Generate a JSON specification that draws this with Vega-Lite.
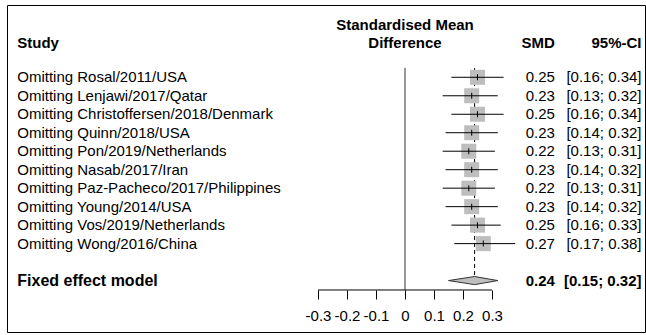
{
  "$schema": "https://vega.github.io/schema/vega-lite/v6.json",
  "autosize": {"type": "none"},
  "padding": {"left": 7, "top": 5, "right": 1, "bottom": 3},
  "width": 638,
  "height": 327,
  "background": "#ffffff",
  "config": {
    "view": {"stroke": "#000000", "strokeWidth": 1},
    "font": "Liberation Sans",
    "text": {"font": "Liberation Sans", "fontSize": 15, "color": "#000000", "baseline": "middle"},
    "axisX": {"domain": false, "grid": false, "ticks": true, "tickSize": 9, "tickColor": "#000000", "tickWidth": 1, "labelFont": "Liberation Sans", "labelFontSize": 15, "labelColor": "#000000", "labelPadding": 9, "labelFlush": false, "labelOverlap": false}
  },
  "datasets": {
    "studies": [
      {"study": "Omitting Rosal/2011/USA", "row": 1, "smd": 0.25, "lo": 0.16, "hi": 0.34, "ci": "[0.16; 0.34]"},
      {"study": "Omitting Lenjawi/2017/Qatar", "row": 2, "smd": 0.23, "lo": 0.13, "hi": 0.32, "ci": "[0.13; 0.32]"},
      {"study": "Omitting Christoffersen/2018/Denmark", "row": 3, "smd": 0.25, "lo": 0.16, "hi": 0.34, "ci": "[0.16; 0.34]"},
      {"study": "Omitting Quinn/2018/USA", "row": 4, "smd": 0.23, "lo": 0.14, "hi": 0.32, "ci": "[0.14; 0.32]"},
      {"study": "Omitting Pon/2019/Netherlands", "row": 5, "smd": 0.22, "lo": 0.13, "hi": 0.31, "ci": "[0.13; 0.31]"},
      {"study": "Omitting Nasab/2017/Iran", "row": 6, "smd": 0.23, "lo": 0.14, "hi": 0.32, "ci": "[0.14; 0.32]"},
      {"study": "Omitting Paz-Pacheco/2017/Philippines", "row": 7, "smd": 0.22, "lo": 0.13, "hi": 0.31, "ci": "[0.13; 0.31]"},
      {"study": "Omitting Young/2014/USA", "row": 8, "smd": 0.23, "lo": 0.14, "hi": 0.32, "ci": "[0.14; 0.32]"},
      {"study": "Omitting Vos/2019/Netherlands", "row": 9, "smd": 0.25, "lo": 0.16, "hi": 0.33, "ci": "[0.16; 0.33]"},
      {"study": "Omitting Wong/2016/China", "row": 10, "smd": 0.27, "lo": 0.17, "hi": 0.38, "ci": "[0.17; 0.38]"}
    ],
    "pooled": [
      {"label": "Fixed effect model", "row": 12, "smd": 0.24, "lo": 0.15, "hi": 0.32, "ci": "[0.15; 0.32]"}
    ],
    "diamond": [
      {"x": 0.15, "ylo": 12, "yhi": 12},
      {"x": 0.24, "ylo": 11.78, "yhi": 12.22},
      {"x": 0.32, "ylo": 12, "yhi": 12}
    ]
  },
  "layer": [
    {
      "data": {"values": [{}]},
      "mark": {"type": "rule", "color": "#777777", "strokeWidth": 1.5},
      "encoding": {
        "x": {"datum": 0, "type": "quantitative",
          "scale": {"domain": [-1.3724, 0.8276], "nice": false, "zero": false},
          "axis": {"values": [-0.3, -0.2, -0.1, 0, 0.1, 0.2, 0.3], "offset": -42, "title": null, "labelExpr": "datum.value == 0 ? '0' : (datum.value < 0 ? '-' : '') + format(abs(datum.value), '.1f')"}},
        "y": {"datum": 0.48, "type": "quantitative", "scale": {"domain": [-2.912, 14.783], "nice": false, "zero": false, "reverse": true}, "axis": null},
        "y2": {"datum": 12.51}
      }
    },
    {
      "data": {"name": "pooled"},
      "mark": {"type": "rule", "color": "#000000", "strokeWidth": 1, "strokeDash": [4, 3]},
      "encoding": {
        "x": {"field": "smd", "type": "quantitative", "scale": {"domain": [-1.3724, 0.8276], "nice": false, "zero": false},
          "axis": {"values": [-0.3, -0.2, -0.1, 0, 0.1, 0.2, 0.3], "offset": -42, "title": null, "labelExpr": "datum.value == 0 ? '0' : (datum.value < 0 ? '-' : '') + format(abs(datum.value), '.1f')"}},
        "y": {"datum": 0.5, "type": "quantitative", "scale": {"domain": [-2.912, 14.783], "nice": false, "zero": false, "reverse": true}, "axis": null},
        "y2": {"datum": 11.78}
      }
    },
    {
      "data": {"name": "studies"},
      "mark": {"type": "point", "shape": "square", "filled": true, "color": "#bebebe", "opacity": 1, "size": 225, "strokeWidth": 0},
      "encoding": {
        "x": {"field": "smd", "type": "quantitative", "scale": {"domain": [-1.3724, 0.8276], "nice": false, "zero": false},
          "axis": {"values": [-0.3, -0.2, -0.1, 0, 0.1, 0.2, 0.3], "offset": -42, "title": null, "labelExpr": "datum.value == 0 ? '0' : (datum.value < 0 ? '-' : '') + format(abs(datum.value), '.1f')"}},
        "y": {"field": "row", "type": "quantitative", "scale": {"domain": [-2.912, 14.783], "nice": false, "zero": false, "reverse": true}, "axis": null}
      }
    },
    {
      "data": {"name": "studies"},
      "mark": {"type": "rule", "color": "#000000", "strokeWidth": 1},
      "encoding": {
        "x": {"field": "lo", "type": "quantitative", "scale": {"domain": [-1.3724, 0.8276], "nice": false, "zero": false},
          "axis": {"values": [-0.3, -0.2, -0.1, 0, 0.1, 0.2, 0.3], "offset": -42, "title": null, "labelExpr": "datum.value == 0 ? '0' : (datum.value < 0 ? '-' : '') + format(abs(datum.value), '.1f')"}},
        "x2": {"field": "hi"},
        "y": {"field": "row", "type": "quantitative", "scale": {"domain": [-2.912, 14.783], "nice": false, "zero": false, "reverse": true}, "axis": null}
      }
    },
    {
      "data": {"name": "studies"},
      "mark": {"type": "tick", "orient": "vertical", "color": "#000000", "size": 6, "thickness": 1, "opacity": 1},
      "encoding": {
        "x": {"field": "smd", "type": "quantitative", "scale": {"domain": [-1.3724, 0.8276], "nice": false, "zero": false},
          "axis": {"values": [-0.3, -0.2, -0.1, 0, 0.1, 0.2, 0.3], "offset": -42, "title": null, "labelExpr": "datum.value == 0 ? '0' : (datum.value < 0 ? '-' : '') + format(abs(datum.value), '.1f')"}},
        "y": {"field": "row", "type": "quantitative", "scale": {"domain": [-2.912, 14.783], "nice": false, "zero": false, "reverse": true}, "axis": null}
      }
    },
    {
      "data": {"name": "diamond"},
      "mark": {"type": "area", "orient": "vertical", "color": "#bebebe", "opacity": 1, "stroke": "#333333", "strokeWidth": 1},
      "encoding": {
        "x": {"field": "x", "type": "quantitative", "scale": {"domain": [-1.3724, 0.8276], "nice": false, "zero": false},
          "axis": {"values": [-0.3, -0.2, -0.1, 0, 0.1, 0.2, 0.3], "offset": -42, "title": null, "labelExpr": "datum.value == 0 ? '0' : (datum.value < 0 ? '-' : '') + format(abs(datum.value), '.1f')"}},
        "y": {"field": "ylo", "type": "quantitative", "scale": {"domain": [-2.912, 14.783], "nice": false, "zero": false, "reverse": true}, "axis": null},
        "y2": {"field": "yhi"}
      }
    },
    {
      "data": {"values": [{}]},
      "mark": {"type": "rule", "color": "#000000", "strokeWidth": 1},
      "encoding": {
        "x": {"datum": -0.3, "type": "quantitative", "scale": {"domain": [-1.3724, 0.8276], "nice": false, "zero": false},
          "axis": {"values": [-0.3, -0.2, -0.1, 0, 0.1, 0.2, 0.3], "offset": -42, "title": null, "labelExpr": "datum.value == 0 ? '0' : (datum.value < 0 ? '-' : '') + format(abs(datum.value), '.1f')"}},
        "x2": {"datum": 0.3},
        "y": {"datum": 12.51, "type": "quantitative", "scale": {"domain": [-2.912, 14.783], "nice": false, "zero": false, "reverse": true}, "axis": null}
      }
    },
    {
      "data": {"name": "studies"},
      "mark": {"type": "text", "align": "left"},
      "encoding": {
        "x": {"datum": -1.337, "type": "quantitative", "scale": {"domain": [-1.3724, 0.8276], "nice": false, "zero": false},
          "axis": {"values": [-0.3, -0.2, -0.1, 0, 0.1, 0.2, 0.3], "offset": -42, "title": null, "labelExpr": "datum.value == 0 ? '0' : (datum.value < 0 ? '-' : '') + format(abs(datum.value), '.1f')"}},
        "y": {"field": "row", "type": "quantitative", "scale": {"domain": [-2.912, 14.783], "nice": false, "zero": false, "reverse": true}, "axis": null},
        "text": {"field": "study"}
      }
    },
    {
      "data": {"name": "studies"},
      "mark": {"type": "text", "align": "right"},
      "encoding": {
        "x": {"datum": 0.517, "type": "quantitative", "scale": {"domain": [-1.3724, 0.8276], "nice": false, "zero": false},
          "axis": {"values": [-0.3, -0.2, -0.1, 0, 0.1, 0.2, 0.3], "offset": -42, "title": null, "labelExpr": "datum.value == 0 ? '0' : (datum.value < 0 ? '-' : '') + format(abs(datum.value), '.1f')"}},
        "y": {"field": "row", "type": "quantitative", "scale": {"domain": [-2.912, 14.783], "nice": false, "zero": false, "reverse": true}, "axis": null},
        "text": {"field": "smd", "format": ".2f"}
      }
    },
    {
      "data": {"name": "studies"},
      "mark": {"type": "text", "align": "right"},
      "encoding": {
        "x": {"datum": 0.8155, "type": "quantitative", "scale": {"domain": [-1.3724, 0.8276], "nice": false, "zero": false},
          "axis": {"values": [-0.3, -0.2, -0.1, 0, 0.1, 0.2, 0.3], "offset": -42, "title": null, "labelExpr": "datum.value == 0 ? '0' : (datum.value < 0 ? '-' : '') + format(abs(datum.value), '.1f')"}},
        "y": {"field": "row", "type": "quantitative", "scale": {"domain": [-2.912, 14.783], "nice": false, "zero": false, "reverse": true}, "axis": null},
        "text": {"field": "ci"}
      }
    },
    {
      "data": {"name": "pooled"},
      "mark": {"type": "text", "align": "left", "fontWeight": "bold", "fontSize": 16},
      "encoding": {
        "x": {"datum": -1.337, "type": "quantitative", "scale": {"domain": [-1.3724, 0.8276], "nice": false, "zero": false},
          "axis": {"values": [-0.3, -0.2, -0.1, 0, 0.1, 0.2, 0.3], "offset": -42, "title": null, "labelExpr": "datum.value == 0 ? '0' : (datum.value < 0 ? '-' : '') + format(abs(datum.value), '.1f')"}},
        "y": {"field": "row", "type": "quantitative", "scale": {"domain": [-2.912, 14.783], "nice": false, "zero": false, "reverse": true}, "axis": null},
        "text": {"field": "label"}
      }
    },
    {
      "data": {"name": "pooled"},
      "mark": {"type": "text", "align": "right", "fontWeight": "bold"},
      "encoding": {
        "x": {"datum": 0.517, "type": "quantitative", "scale": {"domain": [-1.3724, 0.8276], "nice": false, "zero": false},
          "axis": {"values": [-0.3, -0.2, -0.1, 0, 0.1, 0.2, 0.3], "offset": -42, "title": null, "labelExpr": "datum.value == 0 ? '0' : (datum.value < 0 ? '-' : '') + format(abs(datum.value), '.1f')"}},
        "y": {"field": "row", "type": "quantitative", "scale": {"domain": [-2.912, 14.783], "nice": false, "zero": false, "reverse": true}, "axis": null},
        "text": {"field": "smd", "format": ".2f"}
      }
    },
    {
      "data": {"name": "pooled"},
      "mark": {"type": "text", "align": "right", "fontWeight": "bold"},
      "encoding": {
        "x": {"datum": 0.8155, "type": "quantitative", "scale": {"domain": [-1.3724, 0.8276], "nice": false, "zero": false},
          "axis": {"values": [-0.3, -0.2, -0.1, 0, 0.1, 0.2, 0.3], "offset": -42, "title": null, "labelExpr": "datum.value == 0 ? '0' : (datum.value < 0 ? '-' : '') + format(abs(datum.value), '.1f')"}},
        "y": {"field": "row", "type": "quantitative", "scale": {"domain": [-2.912, 14.783], "nice": false, "zero": false, "reverse": true}, "axis": null},
        "text": {"field": "ci"}
      }
    },
    {
      "data": {"values": [{}]},
      "mark": {"type": "text", "align": "left", "fontWeight": "bold", "text": "Study"},
      "encoding": {
        "x": {"datum": -1.337, "type": "quantitative", "scale": {"domain": [-1.3724, 0.8276], "nice": false, "zero": false},
          "axis": {"values": [-0.3, -0.2, -0.1, 0, 0.1, 0.2, 0.3], "offset": -42, "title": null, "labelExpr": "datum.value == 0 ? '0' : (datum.value < 0 ? '-' : '') + format(abs(datum.value), '.1f')"}},
        "y": {"datum": -0.85, "type": "quantitative", "scale": {"domain": [-2.912, 14.783], "nice": false, "zero": false, "reverse": true}, "axis": null}
      }
    },
    {
      "data": {"values": [{}]},
      "mark": {"type": "text", "align": "center", "fontWeight": "bold", "text": "Standardised Mean"},
      "encoding": {
        "x": {"datum": 0, "type": "quantitative", "scale": {"domain": [-1.3724, 0.8276], "nice": false, "zero": false},
          "axis": {"values": [-0.3, -0.2, -0.1, 0, 0.1, 0.2, 0.3], "offset": -42, "title": null, "labelExpr": "datum.value == 0 ? '0' : (datum.value < 0 ? '-' : '') + format(abs(datum.value), '.1f')"}},
        "y": {"datum": -1.85, "type": "quantitative", "scale": {"domain": [-2.912, 14.783], "nice": false, "zero": false, "reverse": true}, "axis": null}
      }
    },
    {
      "data": {"values": [{}]},
      "mark": {"type": "text", "align": "center", "fontWeight": "bold", "text": "Difference"},
      "encoding": {
        "x": {"datum": 0, "type": "quantitative", "scale": {"domain": [-1.3724, 0.8276], "nice": false, "zero": false},
          "axis": {"values": [-0.3, -0.2, -0.1, 0, 0.1, 0.2, 0.3], "offset": -42, "title": null, "labelExpr": "datum.value == 0 ? '0' : (datum.value < 0 ? '-' : '') + format(abs(datum.value), '.1f')"}},
        "y": {"datum": -0.85, "type": "quantitative", "scale": {"domain": [-2.912, 14.783], "nice": false, "zero": false, "reverse": true}, "axis": null}
      }
    },
    {
      "data": {"values": [{}]},
      "mark": {"type": "text", "align": "right", "fontWeight": "bold", "text": "SMD"},
      "encoding": {
        "x": {"datum": 0.517, "type": "quantitative", "scale": {"domain": [-1.3724, 0.8276], "nice": false, "zero": false},
          "axis": {"values": [-0.3, -0.2, -0.1, 0, 0.1, 0.2, 0.3], "offset": -42, "title": null, "labelExpr": "datum.value == 0 ? '0' : (datum.value < 0 ? '-' : '') + format(abs(datum.value), '.1f')"}},
        "y": {"datum": -0.85, "type": "quantitative", "scale": {"domain": [-2.912, 14.783], "nice": false, "zero": false, "reverse": true}, "axis": null}
      }
    },
    {
      "data": {"values": [{}]},
      "mark": {"type": "text", "align": "right", "fontWeight": "bold", "text": "95%-CI"},
      "encoding": {
        "x": {"datum": 0.8155, "type": "quantitative", "scale": {"domain": [-1.3724, 0.8276], "nice": false, "zero": false},
          "axis": {"values": [-0.3, -0.2, -0.1, 0, 0.1, 0.2, 0.3], "offset": -42, "title": null, "labelExpr": "datum.value == 0 ? '0' : (datum.value < 0 ? '-' : '') + format(abs(datum.value), '.1f')"}},
        "y": {"datum": -0.85, "type": "quantitative", "scale": {"domain": [-2.912, 14.783], "nice": false, "zero": false, "reverse": true}, "axis": null}
      }
    }
  ]
}
